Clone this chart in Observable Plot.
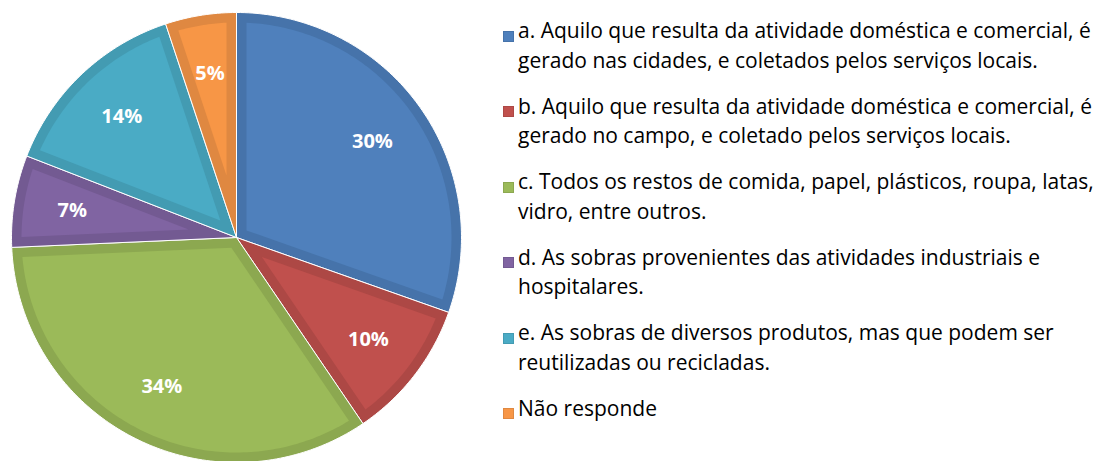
<!DOCTYPE html>
<html><head><meta charset="utf-8">
<script src="https://cdn.jsdelivr.net/npm/d3@7"></script>
<script src="https://cdn.jsdelivr.net/npm/@observablehq/plot@0.6"></script>
<style>
html,body{margin:0;padding:0;background:#fff;}
#wrap{position:relative;width:1101px;height:461px;overflow:hidden;}
#wrap svg{position:absolute;left:0;top:0;}
#legend{position:absolute;left:503px;top:16px;font-family:"Open Sans", sans-serif;font-size:21px;color:#000;}
.item{display:flex;align-items:flex-start;margin-bottom:16.5px;line-height:29.5px;white-space:nowrap;}
.sw{width:9px;height:9px;margin-top:14.5px;margin-right:4px;flex:none;border:1px solid;}
</style></head><body><div id="wrap"></div>
<script>
const categories = ["a", "b", "c", "d", "e", "Não responde"];
const values = [30.4, 10.1, 33.8, 6.6, 14.0, 5.1];
const labels = ["30%", "10%", "34%", "7%", "14%", "5%"];
const legendLines = [
  ["a. Aquilo que resulta da atividade doméstica e comercial, é", "gerado nas cidades, e coletados pelos serviços locais."],
  ["b. Aquilo que resulta da atividade doméstica e comercial, é", "gerado no campo, e coletado pelos serviços locais."],
  ["c. Todos os restos de comida, papel, plásticos, roupa, latas,", "vidro, entre outros."],
  ["d. As sobras provenientes das atividades industriais e", "hospitalares."],
  ["e. As sobras de diversos produtos, mas que podem ser", "reutilizadas ou recicladas."],
  ["Não responde"]
];
const fills = ["#4F80BC", "#C0504D", "#9BBA59", "#8064A2", "#4AABC5", "#F79646"];
const borders = ["#4673AA", "#AD4845", "#8CA850", "#735A92", "#439BB2", "#DF8841"];

const BORDER = 10 / 225;
const arcs = d3.pie().sort(null).startAngle(0).endAngle(2 * Math.PI)(values);
const pt = (a, r) => [Math.sin(a) * r, -Math.cos(a) * r];

const outerRows = [], innerRows = [];
arcs.forEach((s, i) => {
  const a0 = s.startAngle, a1 = s.endAngle;
  const n = Math.max(4, Math.ceil((a1 - a0) / (Math.PI / 180)));
  outerRows.push({key: i, x: 0, y: 0, c: borders[i]});
  for (let k = 0; k <= n; k++) {
    const [x, y] = pt(a0 + (a1 - a0) * k / n, 1);
    outerRows.push({key: i, x, y, c: borders[i]});
  }
  outerRows.push({key: i, x: 0, y: 0, c: borders[i]});
  const th = a1 - a0, mid = (a0 + a1) / 2;
  const rIn = 1 - BORDER;
  const dA = Math.asin(BORDER / rIn);
  const [ax, ay] = pt(mid, BORDER / Math.sin(th / 2));
  innerRows.push({key: i, x: ax, y: ay, c: fills[i]});
  for (let k = 0; k <= n; k++) {
    const [x, y] = pt(a0 + dA + (th - 2 * dA) * k / n, rIn);
    innerRows.push({key: i, x, y, c: fills[i]});
  }
  innerRows.push({key: i, x: ax, y: ay, c: fills[i]});
});

const labelRows = arcs.map((s, i) => {
  const [x, y] = pt((s.startAngle + s.endAngle) / 2, 0.74);
  return {x, y, text: labels[i]};
});

const chart = Plot.plot({
  width: 480, height: 461,
  margin: 0,
  x: {domain: [-1, 1], range: [11, 461], axis: null},
  y: {domain: [-1, 1], range: [12, 462], axis: null},
  color: {type: "identity"},
  marks: [
    Plot.line(outerRows, {x: "x", y: "y", z: "key", fill: "c", stroke: "white", strokeWidth: 1, curve: "linear"}),
    Plot.line(innerRows, {x: "x", y: "y", z: "key", fill: "c", stroke: "none", curve: "linear"}),
    Plot.text(labelRows, {x: "x", y: "y", text: "text", fill: "white", fontWeight: "bold", fontSize: 20, fontFamily: "Open Sans"})
  ]
});
const wrap = document.getElementById("wrap");
wrap.appendChild(chart);

const legend = document.createElement("div");
legend.id = "legend";
legendLines.forEach((lines, i) => {
  const item = document.createElement("div");
  item.className = "item";
  const sw = document.createElement("div");
  sw.className = "sw";
  sw.style.background = fills[i];
  sw.style.borderColor = borders[i];
  const tx = document.createElement("div");
  lines.forEach((l, j) => {
    if (j) tx.appendChild(document.createElement("br"));
    tx.appendChild(document.createTextNode(l));
  });
  item.appendChild(sw);
  item.appendChild(tx);
  legend.appendChild(item);
});
wrap.appendChild(legend);
</script></body></html>
